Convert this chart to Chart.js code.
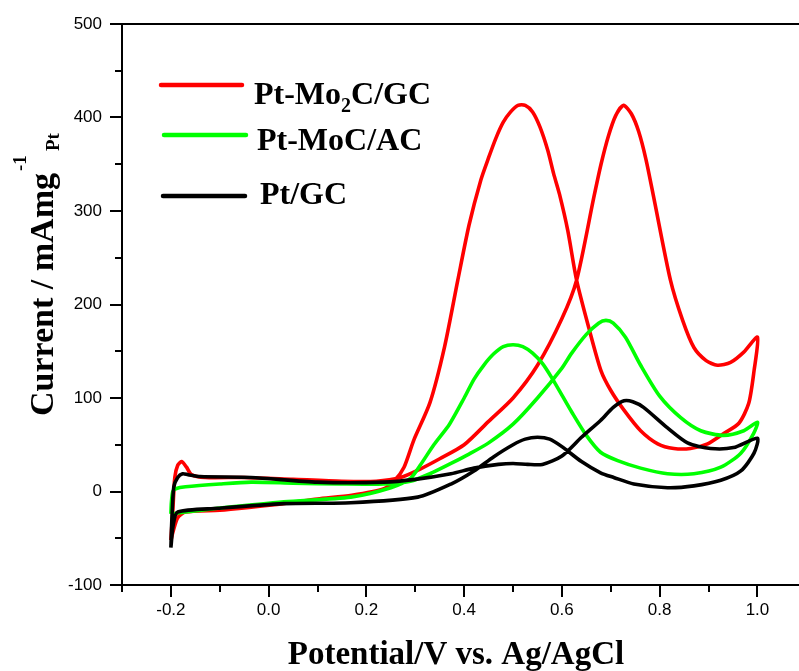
<!DOCTYPE html>
<html>
<head>
<meta charset="utf-8">
<script src="https://cdn.jsdelivr.net/npm/chart.js@4.4.0/dist/chart.umd.min.js"></script>
<style>
  html, body { margin: 0; padding: 0; background: #fff; }
  #wrap { width: 799px; height: 671px; }
</style>
</head>
<body>
<div id="wrap"><canvas id="cv"></canvas></div>
<script>
// each loop: forward scan from -0.2 V to 1.0 V, then reverse scan back to -0.2 V
const mo2cPotential = [-0.2, -0.196, -0.192, -0.186, -0.178, -0.168, -0.158, -0.13, -0.05, 0.05, 0.15, 0.22, 0.27, 0.31, 0.35, 0.40, 0.45, 0.50, 0.55, 0.60, 0.63, 0.665, 0.68, 0.695, 0.71, 0.726, 0.742, 0.757, 0.772, 0.788, 0.822, 0.847, 0.870, 0.895, 0.918, 0.945, 0.972, 1.0,
  0.993, 0.982, 0.962, 0.931, 0.898, 0.863, 0.829, 0.796, 0.761, 0.727, 0.700, 0.680, 0.655, 0.630, 0.612, 0.595, 0.583, 0.571, 0.555, 0.54, 0.525, 0.51, 0.495, 0.48, 0.465, 0.45, 0.434, 0.410, 0.387, 0.36, 0.33, 0.297, 0.277, 0.258, 0.236, 0.17, 0.10, 0.03, -0.04, -0.10, -0.17, -0.186, -0.195, -0.2];
const mo2cCurrent = [-52, -20, 15, 28, 32, 26, 18, 15, 15, 13, 11, 11, 15, 24, 35, 50, 75, 100, 135, 185, 226, 314, 350, 380, 402, 413, 404, 385, 355, 314, 226, 183, 154, 140, 135, 138, 149, 165,
  129, 94, 73, 62, 51, 46, 46, 51, 65, 87, 108, 129, 175, 226, 279, 318, 340, 365, 390, 406, 413, 413, 406, 395, 378, 357, 333, 285, 226, 155, 95, 55, 26, 12, 3, -4, -8, -13, -17, -20, -22, -28, -42, -52];

const mocPotential = [-0.2, -0.199, -0.196, -0.19, -0.17, -0.1, -0.036, 0.05, 0.15, 0.236, 0.29, 0.33, 0.373, 0.41, 0.45, 0.50, 0.55, 0.60, 0.62, 0.65, 0.675, 0.69, 0.705, 0.73, 0.761, 0.80, 0.843, 0.884, 0.931, 0.972, 1.0,
  0.992, 0.966, 0.925, 0.87, 0.816, 0.761, 0.714, 0.679, 0.65, 0.62, 0.60, 0.58, 0.56, 0.54, 0.52, 0.50, 0.48, 0.46, 0.44, 0.42, 0.40, 0.37, 0.338, 0.31, 0.29, 0.25, 0.168, 0.031, -0.104, -0.17, -0.2];
const mocCurrent = [-24, -12, 0, 3, 5, 8, 10, 9, 8, 8, 11, 19, 30, 40, 52, 72, 100, 132, 148, 168, 180, 183, 180, 165, 135, 102, 79, 65, 60, 65, 74,
  62, 41, 26, 19, 19, 25, 33, 42, 60, 85, 103, 121, 137, 148, 155, 157, 155, 147, 135, 120, 100, 72, 50, 28, 14, 4, -6, -11, -18, -22, -24];

const ptPotential = [-0.2, -0.198, -0.194, -0.186, -0.176, -0.165, -0.14, -0.036, 0.1, 0.236, 0.3, 0.373, 0.42, 0.47, 0.5, 0.53, 0.56, 0.6, 0.64, 0.679, 0.705, 0.727, 0.745, 0.767, 0.816, 0.857, 0.904, 0.951, 1.0,
  0.993, 0.966, 0.925, 0.87, 0.816, 0.747, 0.706, 0.679, 0.64, 0.6, 0.575, 0.55, 0.525, 0.5, 0.46, 0.42, 0.373, 0.305, 0.168, 0.031, -0.104, -0.186, -0.195, -0.2];
const ptCurrent = [-60, -30, 5, 15, 19, 18, 16, 15, 10, 10, 13, 19, 25, 29, 30, 29, 29, 38, 58, 76, 90, 97, 96, 90, 68, 52, 46, 47, 57,
  41, 22, 12, 6, 4, 8, 15, 20, 32, 48, 56, 58, 56, 50, 37, 22, 8, -6, -12, -13, -18, -22, -35, -60];

const seriesNames = ['Pt-Mo2C/GC', 'Pt-MoC/AC', 'Pt/GC'];
const seriesColors = ['#ff0000', '#00ff00', '#000000'];
const xTickValues = [-0.2, 0, 0.2, 0.4, 0.6, 0.8, 1.0];
const yTickValues = [-100, 0, 100, 200, 300, 400, 500];

function toPoints(xs, ys) {
  return xs.map((x, i) => ({ x: x, y: ys[i] }));
}

const SERIF = '"Liberation Serif", "Times New Roman", serif';

// axes frame, minor ticks, titles and legend
const decorations = {
  id: 'decorations',
  afterDraw(chart) {
    const ctx = chart.ctx;
    const a = chart.chartArea;
    const xs = chart.scales.x, ys = chart.scales.y;
    ctx.save();
    ctx.strokeStyle = '#000';
    ctx.lineWidth = 2;
    ctx.beginPath();
    ctx.moveTo(a.left, a.top); ctx.lineTo(a.right, a.top);
    ctx.moveTo(a.left, a.top); ctx.lineTo(a.left, a.bottom);
    ctx.moveTo(a.left - 1, a.bottom); ctx.lineTo(a.right, a.bottom);
    ctx.stroke();

    // ticks: majors at labelled values, minors halfway
    ctx.beginPath();
    for (let k = -3; k <= 10; k++) {
      const v = k / 10;
      const major = xTickValues.some(t => Math.abs(t - v) < 1e-6);
      const px = Math.round(xs.getPixelForValue(v));
      ctx.moveTo(px, a.bottom); ctx.lineTo(px, a.bottom + (major ? 12 : 7));
    }
    for (let v = -100; v <= 500; v += 50) {
      const major = yTickValues.includes(v);
      const py = Math.round(ys.getPixelForValue(v));
      ctx.moveTo(a.left, py); ctx.lineTo(a.left - (major ? 12 : 7), py);
    }
    ctx.stroke();

    ctx.fillStyle = '#000';
    // x title
    ctx.font = 'bold 33px ' + SERIF;
    ctx.textAlign = 'center';
    ctx.textBaseline = 'alphabetic';
    ctx.fillText('Potential/V vs. Ag/AgCl', 456, 664);

    // y title
    ctx.save();
    ctx.translate(53, 416);
    ctx.rotate(-Math.PI / 2);
    ctx.textAlign = 'left';
    ctx.font = 'bold 34px ' + SERIF;
    const main = 'Current / mAmg';
    ctx.fillText(main, 0, 0);
    const w = ctx.measureText(main).width;
    ctx.font = 'bold 19px ' + SERIF;
    ctx.fillText('-1', w + 2, -27);
    ctx.fillText('Pt', w + 22, 6);
    ctx.restore();

    // legend
    const legendRows = [
      { line: [161, 242, 85], text: [254, 104] },
      { line: [164, 246, 135], text: [257, 150] },
      { line: [163, 245, 196], text: [260, 204] }
    ];
    ctx.lineCap = 'round';
    ctx.lineWidth = 4.5;
    legendRows.forEach((row, i) => {
      ctx.strokeStyle = seriesColors[i];
      ctx.beginPath();
      ctx.moveTo(row.line[0], row.line[2]);
      ctx.lineTo(row.line[1], row.line[2]);
      ctx.stroke();
      let x = row.text[0];
      ctx.textAlign = 'left';
      seriesNames[i].split(/(\d)/).forEach(part => {
        if (!part) return;
        const sub = /^\d$/.test(part);
        ctx.font = sub ? 'bold 20px ' + SERIF : 'bold 32px ' + SERIF;
        ctx.fillText(part, x, row.text[1] + (sub ? 8 : 0));
        x += ctx.measureText(part).width;
      });
    });
    ctx.restore();
  }
};

const datasets = [
  toPoints(mo2cPotential, mo2cCurrent),
  toPoints(mocPotential, mocCurrent),
  toPoints(ptPotential, ptCurrent)
].map((pts, i) => ({
  label: seriesNames[i],
  data: pts,
  showLine: true,
  borderColor: seriesColors[i],
  backgroundColor: seriesColors[i],
  borderWidth: 3.6,
  pointRadius: 0,
  tension: 0.25,
  fill: false
}));

new Chart(document.getElementById('cv'), {
  type: 'scatter',
  data: { datasets: datasets.reverse() },
  options: {
    responsive: true,
    maintainAspectRatio: false,
    animation: false,
    layout: { padding: { top: 24, right: 0, left: 0, bottom: 0 } },
    plugins: { legend: { display: false }, tooltip: { enabled: false } },
    scales: {
      x: {
        type: 'linear',
        min: -0.3,
        max: 1.085,
        afterBuildTicks: s => { s.ticks = xTickValues.map(v => ({ value: v })); },
        afterFit: s => { s.height = 86; s.paddingLeft = 0; s.paddingRight = 0; },
        grid: { display: false, drawTicks: false },
        border: { display: false },
        ticks: {
          padding: 15,
          color: '#000',
          font: { family: '"Liberation Sans", Arial, sans-serif', size: 17 },
          callback: v => v.toFixed(1)
        }
      },
      y: {
        type: 'linear',
        min: -100,
        max: 500,
        afterBuildTicks: s => { s.ticks = yTickValues.map(v => ({ value: v })); },
        afterFit: s => { s.width = 122; s.paddingTop = 0; s.paddingBottom = 0; },
        grid: { display: false, drawTicks: false },
        border: { display: false },
        ticks: {
          padding: 20,
          color: '#000',
          font: { family: '"Liberation Sans", Arial, sans-serif', size: 17 },
          callback: v => String(v)
        }
      }
    }
  },
  plugins: [decorations]
});
</script>
</body>
</html>
